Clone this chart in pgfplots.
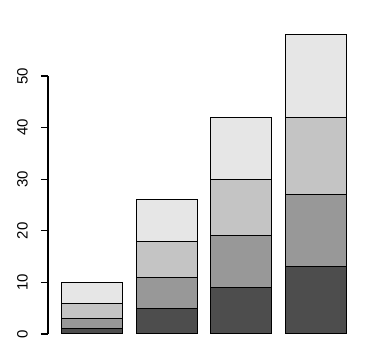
\documentclass[border=0pt]{standalone}
\usepackage{fontspec}
\setmainfont{Liberation Sans}
\usepackage{pgfplots}
\pgfplotsset{compat=1.18}
\definecolor{g1}{HTML}{4D4D4D}
\definecolor{g2}{HTML}{989898}
\definecolor{g3}{HTML}{C4C4C4}
\definecolor{g4}{HTML}{E6E6E6}
\begin{document}
\begin{tikzpicture}
\useasboundingbox (-48pt,-19pt) rectangle (317pt,334pt);
\begin{axis}[
  at={(0pt,0pt)}, anchor=south west,
  scale only axis, width=312pt, height=258pt,
  xmin=-0.597, xmax=3.591, ymin=0, ymax=50,
  clip=false,
  axis x line=none,
  axis y line*=left,
  axis line style={line width=1.1pt, -},
  ytick={0,10,20,30,40,50},
  tick align=outside,
  major tick length=7pt,
  every tick/.style={line width=1.1pt, black},
  tick label style={font=\fontsize{15}{18}\selectfont},
  yticklabel style={rotate=90, anchor=south, inner sep=0pt},
  yticklabel shift=13pt,
  /pgf/number format/assume math mode=true,
  ybar stacked, bar width=0.819,
  every axis plot/.append style={draw=black, line width=1pt},
]
\addplot[fill=g1] coordinates {(0,1) (1,5) (2,9) (3,13)};
\addplot[fill=g2] coordinates {(0,2) (1,6) (2,10) (3,14)};
\addplot[fill=g3] coordinates {(0,3) (1,7) (2,11) (3,15)};
\addplot[fill=g4] coordinates {(0,4) (1,8) (2,12) (3,16)};
\end{axis}
\end{tikzpicture}
\end{document}
